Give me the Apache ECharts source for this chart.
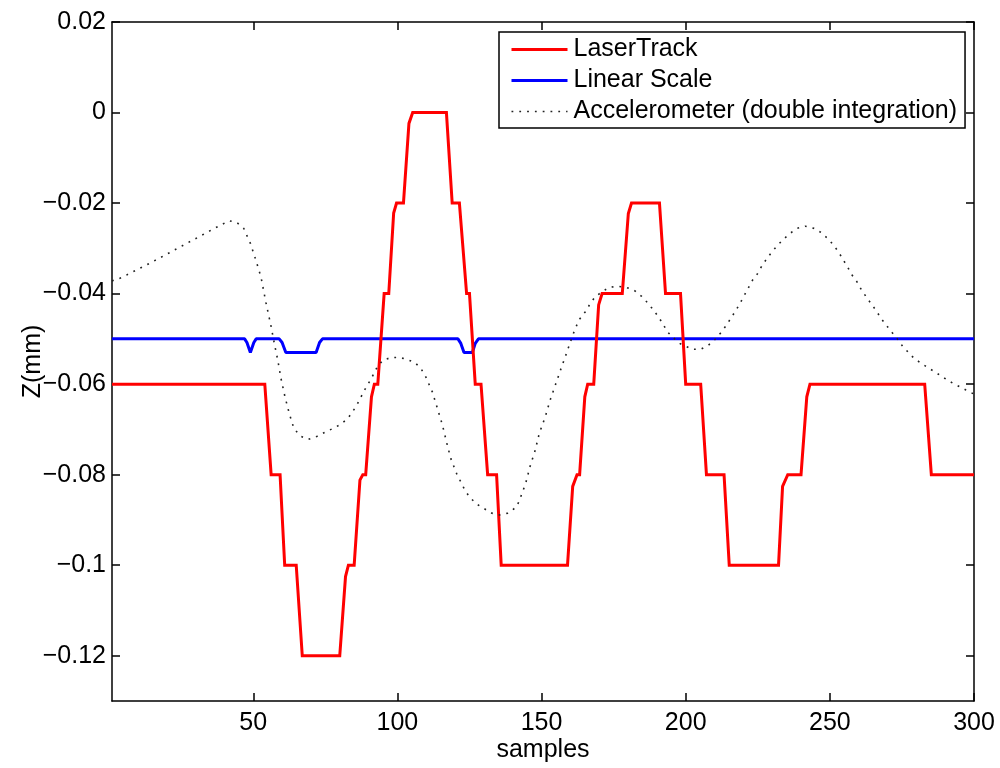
<!DOCTYPE html>
<html>
<head>
<meta charset="utf-8">
<script src="https://cdn.jsdelivr.net/npm/echarts@6/dist/echarts.min.js"></script>
<style>
html,body{margin:0;padding:0;background:#fff;}
#chart{width:1000px;height:768px;}
</style>
</head>
<body>
<div id="chart"></div>
<script>
// ---- data (sample, Z in mm) ----
const seriesNames = ['LaserTrack', 'Linear Scale', 'Accelerometer (double integration)'];
const xTicks = [50, 100, 150, 200, 250, 300];
const yTicks = [0.02, 0, -0.02, -0.04, -0.06, -0.08, -0.1, -0.12];

const laserTrack = [
  [1,-0.06],[54,-0.06],[56.2,-0.08],[59.3,-0.08],[60.9,-0.1],[64.9,-0.1],[67,-0.12],[80,-0.12],
  [82,-0.1025],[83,-0.1],[85,-0.1],[87,-0.0812],[88,-0.08],[89,-0.08],[91,-0.0628],[92,-0.06],[93.2,-0.06],
  [95.4,-0.04],[97,-0.04],[98.7,-0.0222],[99.7,-0.02],[102.1,-0.02],[104,-0.0024],[105.3,0],[117,0],
  [119,-0.02],[121.5,-0.02],[124,-0.04],[125,-0.04],[127,-0.06],[129,-0.06],[131.3,-0.08],[134.4,-0.08],
  [136,-0.1],[159,-0.1],[160.8,-0.0826],[162.3,-0.08],[163.2,-0.08],[165,-0.0628],[166,-0.06],[168.1,-0.06],
  [169.8,-0.0425],[171,-0.04],[178,-0.04],[180.1,-0.0223],[181.2,-0.02],[190.9,-0.02],[193,-0.04],[198.2,-0.04],
  [200,-0.06],[205.2,-0.06],[207.2,-0.08],[213.3,-0.08],[215.1,-0.1],[232.2,-0.1],[233.6,-0.0826],[235.4,-0.08],
  [240,-0.08],[242,-0.0628],[243.1,-0.06],[282.9,-0.06],[285.2,-0.08],[300,-0.08]
];

const linearScale = [
  [1,-0.05],[47,-0.05],[47.8,-0.0508],[49,-0.053],[50.2,-0.0508],[51,-0.05],
  [59,-0.05],[60,-0.0508],[61.3,-0.053],[71.8,-0.053],[73,-0.0508],[74,-0.05],
  [121,-0.05],[122,-0.0510],[123.1,-0.053],[126,-0.053],[127,-0.0510],[128.1,-0.05],[300,-0.05]
];

const accelerometer = [
  [1,-0.0372],[4.2,-0.0365],[15,-0.033],[25.8,-0.0293],[36.2,-0.0257],[41.6,-0.0239],[44.3,-0.0243],
  [46.7,-0.0256],[49,-0.0289],[50.9,-0.0326],[52.7,-0.0364],[54.4,-0.042],[56.2,-0.0473],[57.3,-0.051],
  [58.5,-0.0547],[59.6,-0.0587],[61,-0.0628],[62.5,-0.0665],[64.1,-0.0698],[66.4,-0.0715],[69.1,-0.0722],
  [72.2,-0.0715],[74.7,-0.0707],[77.6,-0.0698],[80.3,-0.0689],[82.8,-0.0676],[85.7,-0.0649],[88.6,-0.0613],
  [91,-0.0587],[93,-0.0562],[95,-0.0547],[97.9,-0.0541],[100.6,-0.0541],[103.1,-0.0545],[106,-0.0552],
  [108.1,-0.0565],[109.7,-0.0582],[112.1,-0.0617],[113.9,-0.0654],[115.6,-0.069],[117,-0.0727],[118.5,-0.0764],
  [120.5,-0.0797],[123.4,-0.0834],[125.1,-0.085],[127.5,-0.0865],[132.7,-0.0885],[135.5,-0.0889],[138.3,-0.0885],
  [141.4,-0.0871],[142.6,-0.0852],[144.5,-0.0819],[146,-0.0782],[147.8,-0.0746],[149.2,-0.0709],[151.3,-0.0672],
  [153,-0.0635],[155,-0.0598],[156.8,-0.0565],[158.8,-0.0529],[160.8,-0.0492],[162.9,-0.0459],[165.2,-0.044],
  [166.9,-0.0422],[168.6,-0.0407],[171,-0.0396],[173.5,-0.0386],[176.6,-0.0384],[179.3,-0.0386],[182.4,-0.0394],
  [184.7,-0.0406],[186.6,-0.0419],[188.4,-0.0433],[190.5,-0.0451],[192.1,-0.0467],[193.6,-0.0484],[195.6,-0.0497],
  [197.9,-0.051],[200.6,-0.0518],[202.3,-0.0523],[205.2,-0.0523],[207.9,-0.0514],[210.2,-0.0501],[212.1,-0.0487],
  [214.1,-0.047],[215.6,-0.0455],[217.4,-0.0437],[218.8,-0.0422],[221,-0.0396],[223.2,-0.037],[224.9,-0.0356],
  [226.4,-0.0339],[228,-0.0324],[229.9,-0.0308],[231.9,-0.0293],[233.9,-0.028],[236.2,-0.0267],[238.6,-0.0256],
  [241.5,-0.0251],[244.6,-0.0256],[247.2,-0.0266],[249.5,-0.028],[251.3,-0.0293],[253.1,-0.0309],[254.7,-0.0326],
  [256.2,-0.0342],[257.7,-0.0359],[259.4,-0.0374],[260.9,-0.0391],[262.6,-0.0407],[264.4,-0.0423],[266.1,-0.0438],
  [267.8,-0.0455],[269.6,-0.047],[271.6,-0.0486],[273.4,-0.05],[275.2,-0.0516],[277.1,-0.0529],[279.2,-0.0543],
  [281.7,-0.0554],[284.4,-0.0565],[286.9,-0.0575],[289.3,-0.0585],[291.8,-0.0595],[294.5,-0.0604],[297.2,-0.0613],
  [300,-0.0622]
];

// ---- chart ----
const FONT = '"Liberation Sans", Arial, Helvetica, sans-serif';
const FS = 25;
const black = '#000';
const axisLineStyle = {color: black, width: 1.5};
function yFmt(v) {
  if (Math.abs(v) < 1e-9) return '0';
  const s = parseFloat(Math.abs(v).toFixed(2)).toString();
  return (v < 0 ? '\u2212' : '') + s;
}

const chart = echarts.init(document.getElementById('chart'), null, {renderer: 'canvas'});
chart.setOption({
  backgroundColor: '#fff',
  animation: false,
  grid: {left: 112, right: 26, top: 22, bottom: 67, show: false},
  legend: {
    orient: 'vertical',
    left: 499, top: 32,
    padding: [5, 8, 4, 11],
    itemGap: 6,
    itemWidth: 56, itemHeight: 14,
    borderColor: black, borderWidth: 1.5,
    backgroundColor: '#fff',
    itemStyle: {opacity: 0},
    textStyle: {fontSize: FS, fontFamily: FONT, color: black, lineHeight: 25, padding: [0, 0, 0, 1]},
    data: [
      {name: seriesNames[0], lineStyle: {width: 3}},
      {name: seriesNames[1], lineStyle: {width: 3}},
      {name: seriesNames[2], lineStyle: {width: 1.6}}
    ]
  },
  xAxis: [
    {
      type: 'value', min: 1, max: 300, position: 'bottom',
      axisLine: {show: true, onZero: false, lineStyle: axisLineStyle},
      axisTick: {show: true, inside: true, length: 8, customValues: xTicks, lineStyle: axisLineStyle},
      axisLabel: {show: true, customValues: xTicks, fontSize: FS, fontFamily: FONT, color: black, margin: 10},
      splitLine: {show: false},
      name: 'samples', nameLocation: 'middle', nameGap: 37, nameMoveOverlap: false,
      nameTextStyle: {fontSize: FS, fontFamily: FONT, color: black}
    },
    {
      type: 'value', min: 1, max: 300, position: 'top',
      axisLine: {show: true, onZero: false, lineStyle: axisLineStyle},
      axisTick: {show: true, inside: true, length: 8, customValues: xTicks, lineStyle: axisLineStyle},
      axisLabel: {show: false},
      splitLine: {show: false}
    }
  ],
  yAxis: [
    {
      type: 'value', min: -0.13, max: 0.02, position: 'left',
      axisLine: {show: true, onZero: false, lineStyle: axisLineStyle},
      axisTick: {show: true, inside: true, length: 8, customValues: yTicks, lineStyle: axisLineStyle},
      axisLabel: {show: true, customValues: yTicks, formatter: yFmt, fontSize: FS, fontFamily: FONT, color: black, margin: 6},
      splitLine: {show: false},
      name: 'Z(mm)', nameLocation: 'middle', nameGap: 66, nameRotate: 90, nameMoveOverlap: false,
      nameTextStyle: {fontSize: FS, fontFamily: FONT, color: black}
    },
    {
      type: 'value', min: -0.13, max: 0.02, position: 'right',
      axisLine: {show: true, onZero: false, lineStyle: axisLineStyle},
      axisTick: {show: true, inside: true, length: 8, customValues: yTicks, lineStyle: axisLineStyle},
      axisLabel: {show: false},
      splitLine: {show: false}
    }
  ],
  series: [
    {
      name: seriesNames[0], type: 'line', data: laserTrack, xAxisIndex: 0, yAxisIndex: 0,
      symbol: 'none', z: 4,
      lineStyle: {color: '#ff0000', width: 3, join: 'miter'},
      itemStyle: {color: '#ff0000'}
    },
    {
      name: seriesNames[1], type: 'line', data: linearScale, xAxisIndex: 0, yAxisIndex: 0,
      symbol: 'none', z: 3,
      lineStyle: {color: '#0000ff', width: 3},
      itemStyle: {color: '#0000ff'}
    },
    {
      name: seriesNames[2], type: 'line', data: accelerometer, xAxisIndex: 0, yAxisIndex: 0,
      symbol: 'none', z: 5,
      lineStyle: {color: '#222', width: 1.6, type: [1.8, 6]},
      itemStyle: {color: '#222'}
    }
  ]
});
</script>
</body>
</html>
